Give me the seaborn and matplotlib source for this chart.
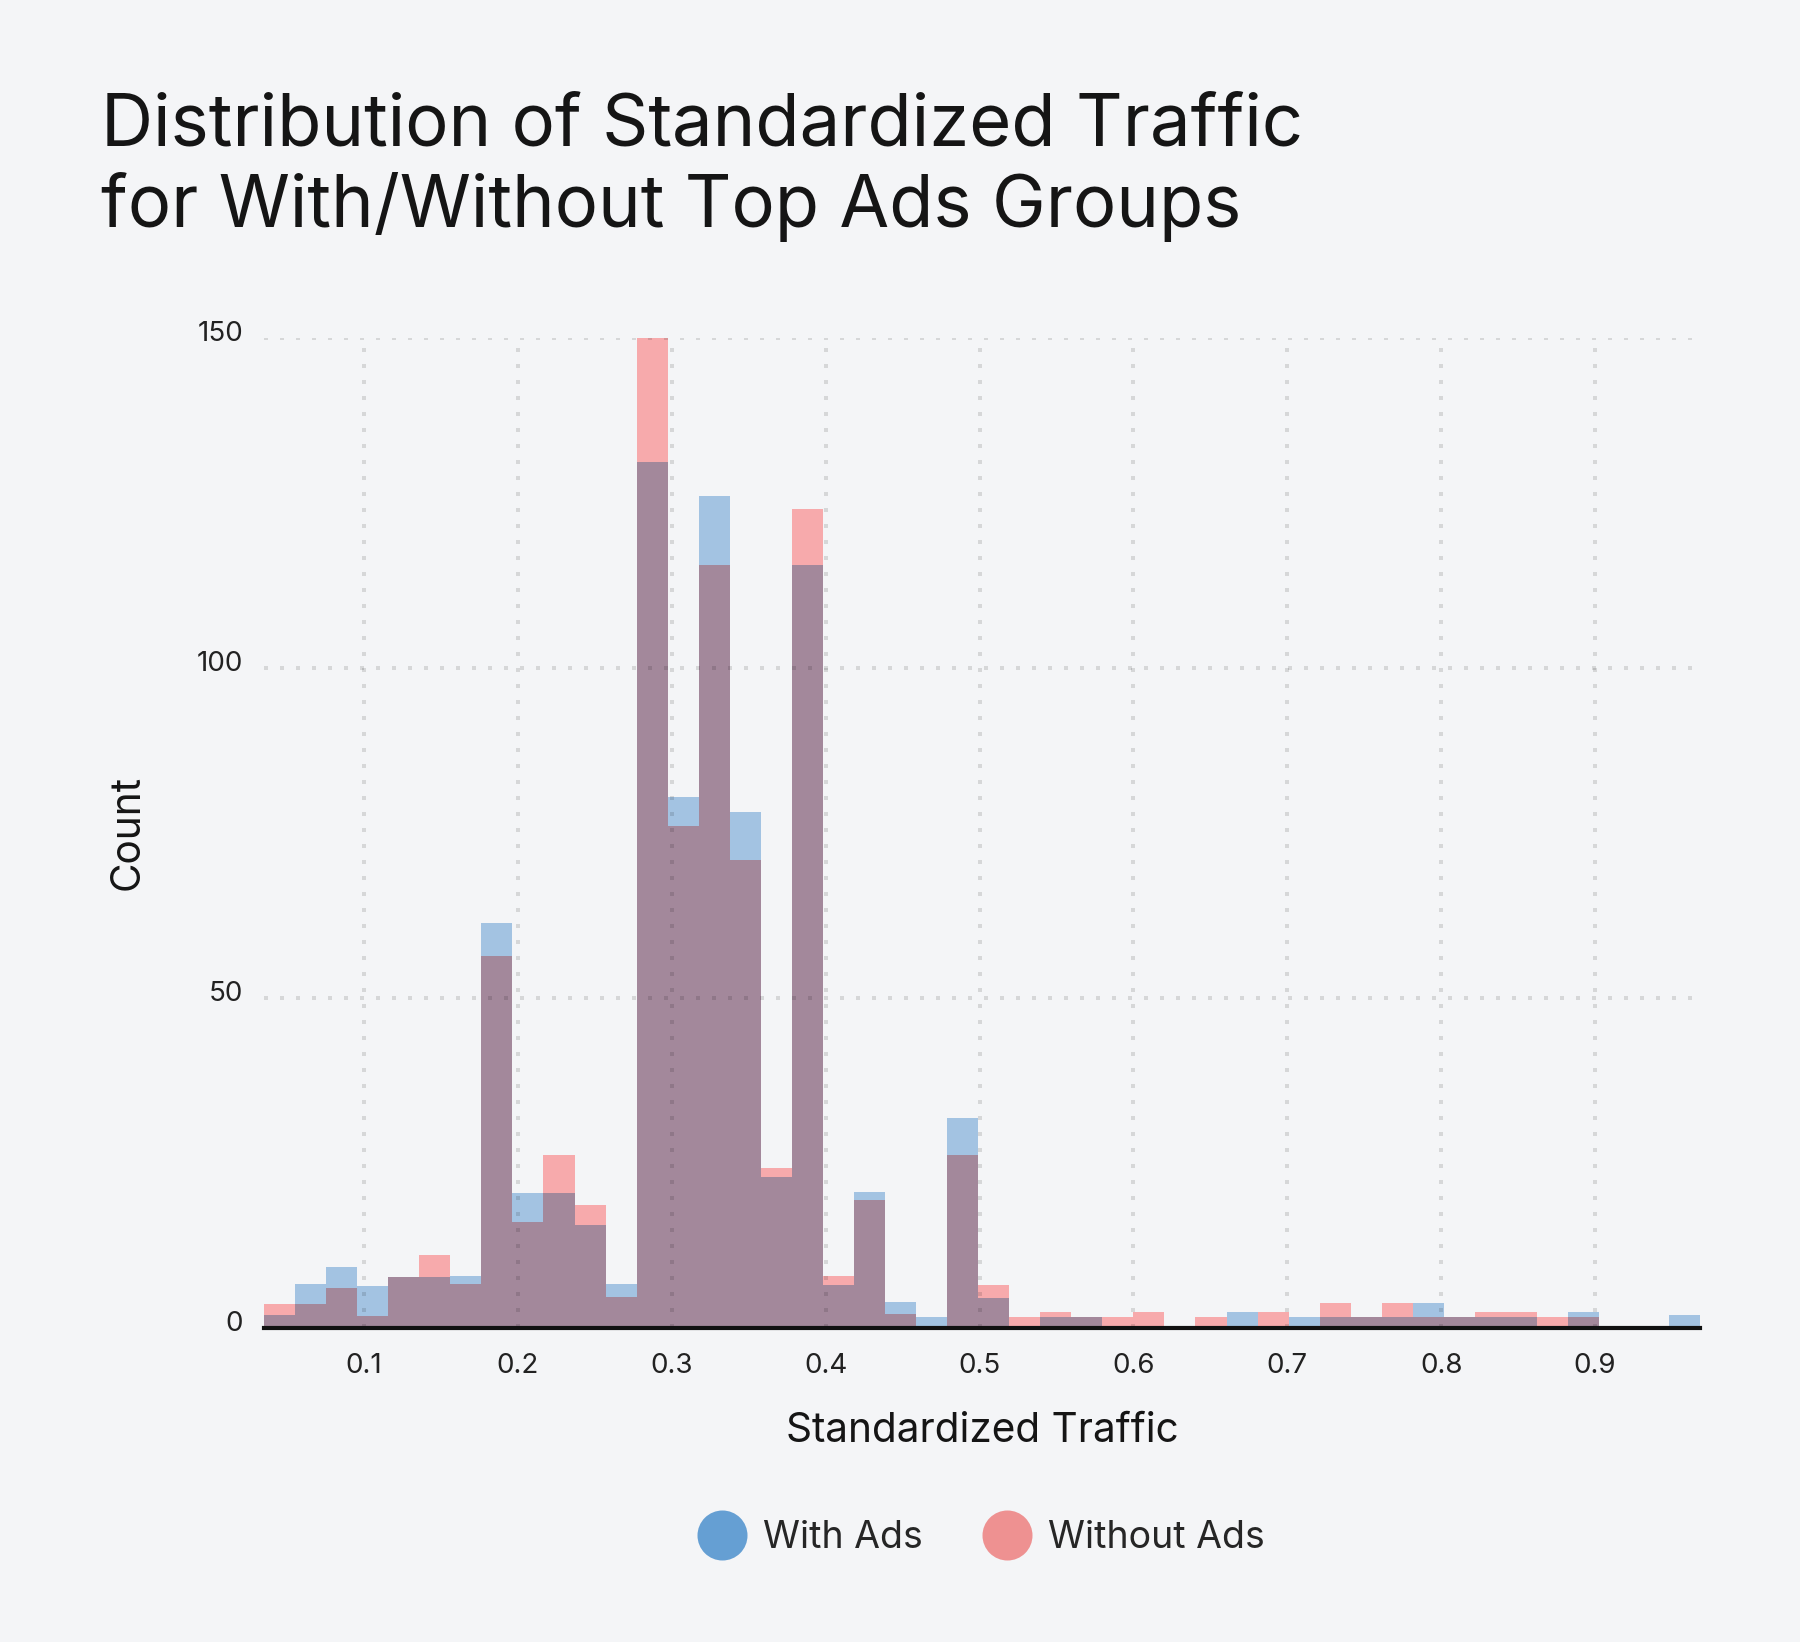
import numpy as np
import pandas as pd
import matplotlib.pyplot as plt
import seaborn as sns
from matplotlib.lines import Line2D
from matplotlib.transforms import ScaledTranslation

# Bins: 43 regular bins, an empty gap, then one last bar
first_edge = 0.0349
bin_width = 0.02018
n_regular = 43
x_max = 0.9682

# Counts per bin
with_ads = [2.0, 6.7, 9.2, 6.3, 7.8, 7.8, 7.9, 61.4, 20.5, 20.5, 15.6, 6.7,
            131.2, 80.5, 126.0, 78.2, 22.9, 115.6, 6.5, 20.6, 3.9, 1.7, 31.8,
            4.5, 0, 1.7, 1.7, 0, 0, 0, 0, 2.4, 0, 1.7, 1.7, 1.7, 1.7, 3.8,
            1.7, 1.7, 1.7, 0, 2.4, 0, 2.0]
without_ads = [3.7, 3.7, 6.1, 1.9, 7.8, 11.0, 6.7, 56.4, 16.1, 26.2, 18.6, 4.7,
               150.0, 76.0, 115.6, 70.9, 24.2, 124.1, 7.9, 19.4, 2.1, 0, 26.2,
               6.5, 1.7, 2.4, 1.7, 1.7, 2.4, 0, 1.7, 0, 2.4, 0, 3.8, 1.7, 3.8,
               1.7, 1.7, 2.4, 2.4, 1.7, 1.7, 0, 0]

x_ticks = [0.1, 0.2, 0.3, 0.4, 0.5, 0.6, 0.7, 0.8, 0.9]
y_ticks = [0, 50, 100, 150]
series_names = ["With Ads", "Without Ads"]

edges = np.append(first_edge + bin_width * np.arange(n_regular + 1),
                  [x_max - bin_width, x_max])
df = pd.DataFrame({
    "center": (edges[:-1] + edges[1:]) / 2,
    "with_ads": with_ads,
    "without_ads": without_ads,
})
# both groups overlap up to the smaller count
df["overlap"] = df[["with_ads", "without_ads"]].min(axis=1)

bg = "#f4f5f7"
blue_bar, red_bar, mix_bar = "#a3c3e2", "#f7aaac", "#a3889b"
blue_dot, red_dot = "#659fd3", "#ee9191"

sns.set_theme(style="white", rc={"figure.facecolor": bg, "axes.facecolor": bg})
plt.rcParams["font.family"] = ["Inter", "DejaVu Sans"]

fig = plt.figure(figsize=(9, 8.21), dpi=200)
ax = fig.add_axes([0.1467, 0.1912, 0.7977, 0.6030])

bin_list = [float(e) for e in edges]
for col, colour in [("with_ads", blue_bar), ("without_ads", red_bar), ("overlap", mix_bar)]:
    sns.histplot(data=df, x="center", weights=col, bins=bin_list, stat="count",
                 color=colour, alpha=1, linewidth=0, ax=ax)

ax.set_xlim(edges[0], edges[-1])
ax.set_ylim(0, 150)
ax.set_xticks(x_ticks)
ax.set_xticklabels([f"{t:.1f}" for t in x_ticks])
ax.set_yticks(y_ticks)

ax.set_axisbelow(False)
ax.grid(True, color="black", alpha=0.12, linestyle=(0, (1, 3)), linewidth=1.44)

for side in ["left", "top", "right"]:
    ax.spines[side].set_visible(False)
ax.spines["bottom"].set_linewidth(1.5)
ax.spines["bottom"].set_color("#111111")
ax.spines["bottom"].set_zorder(5)

ax.tick_params(axis="both", length=0, labelsize=10, labelcolor="#222222")
ax.tick_params(axis="x", pad=9)
ax.tick_params(axis="y", pad=7.5)
for lab in ax.get_yticklabels():
    lab.set_transform(lab.get_transform() + ScaledTranslation(0, 7 / 200, fig.dpi_scale_trans))

label_font = dict(fontsize=14.6, color="#151515")
ax.set_xlabel("Standardized Traffic", labelpad=12, **label_font)
ax.set_ylabel("Count", labelpad=18, **label_font)

fig.text(0.056, 0.9435, "Distribution of Standardized Traffic\nfor With/Without Top Ads Groups",
         ha="left", va="top", fontsize=26, linespacing=1.2, color="#151515")

handles = [Line2D([], [], marker="o", linestyle="", markersize=17, color=c)
           for c in (blue_dot, red_dot)]
fig.legend(handles, series_names, loc="center", bbox_to_anchor=(0.545, 0.0633),
           ncol=2, frameon=False, fontsize=13.5, handlelength=1.3,
           handletextpad=0.45, columnspacing=1.6)

fig.savefig("out.png", dpi=200, facecolor=bg)
